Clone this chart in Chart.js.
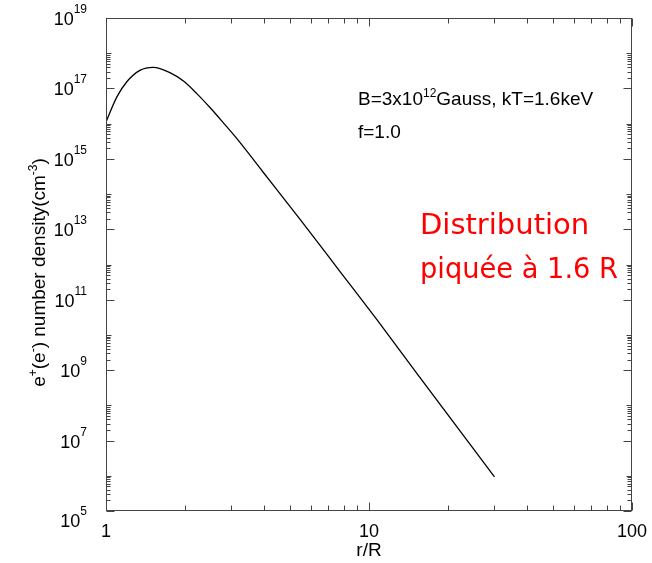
<!DOCTYPE html>
<html><head><meta charset="utf-8">
<style>html,body{margin:0;padding:0;background:#fff}canvas{display:block}</style>
<script src="https://cdn.jsdelivr.net/npm/chart.js@4/dist/chart.umd.min.js"></script>
</head><body>
<canvas id="c" width="652" height="563"></canvas>
<script>
// r/R values
const rValues = [1.00, 1.10, 1.20, 1.35, 1.51, 1.75, 1.97, 2.21, 2.49, 2.79, 3.14, 3.96, 5.47, 7.76, 10.7, 15.2, 30.0];
// e+(e-) number density (cm^-3)
const densityValues = [1.12e16, 5.75e16, 1.55e17, 3.31e17, 3.98e17, 2.82e17, 1.62e17, 7.24e16, 2.82e16, 1.07e16, 3.80e15, 4.17e14, 1.91e13, 6.31e11, 2.75e10, 8.13e8, 9.33e5];
// tick labels
const xTickValues = [1, 10, 100];
const yTickExponents = [5, 7, 9, 11, 13, 15, 17, 19];
const xTitle = "r/R";
const yTitleParts = [["e", 0], ["+", 1], ["(e", 0], ["-", 1], [") number density(cm", 0], ["-3", 1], [")", 0]];
const annotLine1 = [["B=3x10", 0], ["12", 1], ["Gauss, kT=1.6keV", 0]];
const annotLine2 = "f=1.0";
const redLines = ["Distribution", "piquée à 1.6 R"];

const FONT = '"Liberation Sans", Arial, sans-serif';

function drawParts(ctx, parts, x, y, size, supSize, raise) {
  let cx = x;
  for (const [t, sup] of parts) {
    ctx.font = (sup ? supSize : size) + 'px ' + FONT;
    ctx.fillText(t, cx, sup ? y - raise : y);
    cx += ctx.measureText(t).width;
  }
  return cx - x;
}
function measureParts(ctx, parts, size, supSize) {
  let w = 0;
  for (const [t, sup] of parts) {
    ctx.font = (sup ? supSize : size) + 'px ' + FONT;
    w += ctx.measureText(t).width;
  }
  return w;
}

const framePlugin = {
  id: 'frame',
  afterDraw(chart) {
    const ctx = chart.ctx, a = chart.chartArea;
    const xs = chart.scales.x, ys = chart.scales.y;
    ctx.save();
    ctx.strokeStyle = '#444';
    ctx.lineWidth = 1;
    const L = Math.round(a.left) + 0.5, R = Math.round(a.right) - 0.5;
    const T = Math.round(a.top) + 0.5, B = Math.round(a.bottom) - 0.5;
    ctx.strokeRect(L, T, R - L, B - T);
    ctx.beginPath();
    // x ticks
    const xMajor = 8, xMinor = 5;
    for (let d = 0; d < xTickValues.length; d++) {
      const v = xTickValues[d];
      const px = Math.round(xs.getPixelForValue(v)) + 0.5;
      ctx.moveTo(px, B); ctx.lineTo(px, B - xMajor);
      ctx.moveTo(px, T); ctx.lineTo(px, T + xMajor);
      if (d < xTickValues.length - 1) {
        for (let n = 2; n <= 9; n++) {
          const q = Math.round(xs.getPixelForValue(n * v)) + 0.5;
          ctx.moveTo(q, B); ctx.lineTo(q, B - xMinor);
          ctx.moveTo(q, T); ctx.lineTo(q, T + xMinor);
        }
      }
    }
    // y ticks
    const yMajor = 8, yMinor = 4;
    for (const e of yTickExponents) {
      const v = Math.pow(10, e);
      const py = Math.round(ys.getPixelForValue(v)) + 0.5;
      ctx.moveTo(L, py); ctx.lineTo(L + yMajor, py);
      ctx.moveTo(R, py); ctx.lineTo(R - yMajor, py);
      if (e < yTickExponents[yTickExponents.length - 1]) {
        for (let n = 2; n <= 10; n++) {
          const q = Math.round(ys.getPixelForValue(n * v)) + 0.5;
          const len = n === 10 ? 5 : yMinor;
          ctx.moveTo(L, q); ctx.lineTo(L + len, q);
          ctx.moveTo(R, q); ctx.lineTo(R - len, q);
        }
      }
    }
    ctx.stroke();

    ctx.fillStyle = '#000';
    ctx.textBaseline = 'alphabetic';
    // x tick labels
    ctx.font = '18px ' + FONT;
    ctx.textAlign = 'center';
    for (const v of xTickValues) {
      ctx.fillText(String(v), xs.getPixelForValue(v), a.bottom + 26);
    }
    // x title
    ctx.font = '19px ' + FONT;
    ctx.fillText(xTitle, (a.left + a.right) / 2, a.bottom + 45);
    // y tick labels
    ctx.textAlign = 'left';
    for (let i = 0; i < yTickExponents.length; i++) {
      const e = yTickExponents[i];
      const py = ys.getPixelForValue(Math.pow(10, e));
      const parts = [["10", 0], [String(e), 1]];
      const w = measureParts(ctx, parts, 18, 12);
      const base = py + 7 + (i === 0 ? 9 : 0);
      drawParts(ctx, parts, a.left - 19 - w, base, 18, 12, 12);
    }
    // y title (rotated)
    ctx.save();
    const cy = (a.top + a.bottom) / 2 + 8;
    ctx.translate(45, cy);
    ctx.rotate(-Math.PI / 2);
    const tw = measureParts(ctx, yTitleParts, 19, 12);
    drawParts(ctx, yTitleParts, -tw / 2, 0, 19, 12, 8);
    ctx.restore();
    // annotation
    drawParts(ctx, annotLine1, 358, 105, 19, 12, 8);
    ctx.font = '19px ' + FONT;
    ctx.fillText(annotLine2, 358, 138);
    // red text
    ctx.fillStyle = '#ff0000';
    ctx.font = '29px "Comic Sans MS", "DejaVu Sans", sans-serif';
    ctx.fillText(redLines[0], 420, 234, 177);
    ctx.fillText(redLines[1], 420, 278, 198);
    ctx.restore();
  }
};

new Chart(document.getElementById('c'), {
  type: 'line',
  data: {
    datasets: [{
      data: rValues.map((r, i) => ({ x: r, y: densityValues[i] })),
      borderColor: '#000',
      borderWidth: 1.3,
      pointRadius: 0,
      cubicInterpolationMode: 'monotone',
      fill: false
    }]
  },
  options: {
    responsive: false,
    animation: false,
    layout: { padding: { left: 106, right: 20, top: 18, bottom: 52 } },
    plugins: { legend: { display: false }, tooltip: { enabled: false } },
    scales: {
      x: { type: 'logarithmic', min: 1, max: 100, display: false },
      y: { type: 'logarithmic', min: 1e5, max: 1e19, display: false }
    }
  },
  plugins: [framePlugin]
});
</script>
</body></html>
